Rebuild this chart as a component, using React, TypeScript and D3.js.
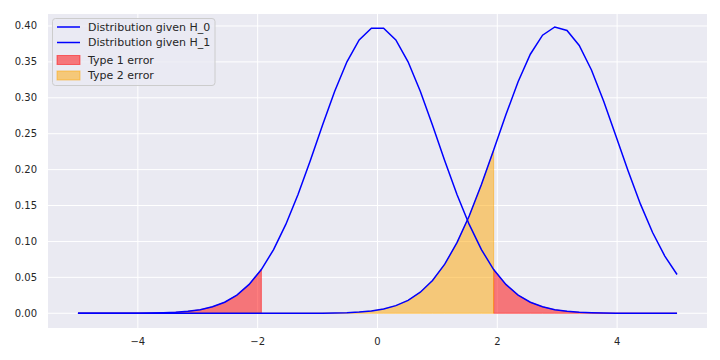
import React, {useMemo} from 'react';
import * as d3 from 'd3';

// sample positions (50 points from -5 to 5)
const xs: number[] = d3.range(50).map((i) => -5 + (i * 10) / 49);

// density, null hypothesis curve
const h0: number[] = [
  0.0000, 0.0000, 0.0000, 0.0000, 0.0001, 0.0001, 0.0003, 0.0007, 0.0014, 0.0027,
  0.0050, 0.0090, 0.0154, 0.0254, 0.0402, 0.0609, 0.0886, 0.1237, 0.1655, 0.2125,
  0.2617, 0.3091, 0.3502, 0.3807, 0.3969, 0.3969, 0.3807, 0.3502, 0.3091, 0.2617,
  0.2125, 0.1655, 0.1237, 0.0886, 0.0609, 0.0402, 0.0254, 0.0154, 0.0090, 0.0050,
  0.0027, 0.0014, 0.0007, 0.0003, 0.0001, 0.0001, 0.0000, 0.0000, 0.0000, 0.0000,
];

// alternative hypothesis curve
const h1: number[] = [
  0.0000, 0.0000, 0.0000, 0.0000, 0.0000, 0.0000, 0.0000, 0.0000, 0.0000, 0.0000,
  0.0000, 0.0000, 0.0000, 0.0000, 0.0000, 0.0000, 0.0000, 0.0000, 0.0000, 0.0001,
  0.0002, 0.0004, 0.0008, 0.0017, 0.0033, 0.0060, 0.0106, 0.0180, 0.0293, 0.0457,
  0.0684, 0.0983, 0.1355, 0.1792, 0.2272, 0.2763, 0.3224, 0.3607, 0.3872, 0.3986,
  0.3937, 0.3729, 0.3388, 0.2953, 0.2469, 0.1980, 0.1523, 0.1124, 0.0796, 0.0540,
];

const xTicks: number[] = [-4, -2, 0, 2, 4];
const yTicks: number[] = [0, 0.05, 0.1, 0.15, 0.2, 0.25, 0.3, 0.35, 0.4];
const critical = 1.93; // fills stop at the last sample inside +/- 1.94
const legendItems = [
  {label: 'Distribution given H_0', kind: 'line', color: '#0000ff'},
  {label: 'Distribution given H_1', kind: 'line', color: '#0000ff'},
  {label: 'Type 1 error', kind: 'patch', color: 'red'},
  {label: 'Type 2 error', kind: 'patch', color: 'orange'},
];

const App: React.FC = () => {
  const width = 720;
  const height = 360;
  const plot = {left: 48, right: 707, top: 14, bottom: 328};
  const font = 'DejaVu Sans, sans-serif';
  const textColor = '#262626';

  const x = useMemo(() => d3.scaleLinear().domain([-5.5, 5.5]).range([plot.left, plot.right]), []);
  const y = useMemo(() => d3.scaleLinear().domain([-0.0205, 0.4167]).range([plot.bottom, plot.top]), []);

  const line = d3.line<number>().x((_, i) => x(xs[i])).y((d) => y(d));

  const idx = d3.range(xs.length);
  const leftTail = idx.filter((i) => xs[i] <= -critical);
  const rightTail = idx.filter((i) => xs[i] >= critical);
  const middle = idx.filter((i) => xs[i] <= critical + 0.02);

  const areaOf = (ids: number[], vals: number[]) =>
    d3.area<number>().x((i) => x(xs[i])).y0(y(0)).y1((i) => y(vals[i]))(ids) || '';

  return (
      <svg width={width} height={height} style={{position: 'absolute', left: 0, top: 0}}>
        <rect x={0} y={0} width={width} height={height} fill="white"/>
        <rect x={plot.left} y={plot.top} width={plot.right - plot.left}
              height={plot.bottom - plot.top} fill="#eaeaf2"/>
        {xTicks.map((t) => (
            <g key={`x${t}`}>
              <line x1={x(t)} x2={x(t)} y1={plot.top} y2={plot.bottom} stroke="white" strokeWidth={1}/>
              <text x={x(t)} y={plot.bottom + 13} dy="0.35em" textAnchor="middle" fontFamily={font}
                    fontSize={10} fill={textColor}>{t < 0 ? `\u2212${-t}` : t}</text>
            </g>
        ))}
        {yTicks.map((t) => (
            <g key={`y${t}`}>
              <line x1={plot.left} x2={plot.right} y1={y(t)} y2={y(t)} stroke="white" strokeWidth={1}/>
              <text x={plot.left - 11} y={y(t)} dy="0.35em" textAnchor="end" fontFamily={font}
                    fontSize={10} fill={textColor}>{t.toFixed(2)}</text>
            </g>
        ))}
        <g>
          <path d={areaOf(leftTail, h0)} fill="red" fillOpacity={0.5} stroke="red" strokeOpacity={0.5}/>
          <path d={areaOf(rightTail, h0)} fill="red" fillOpacity={0.5} stroke="red" strokeOpacity={0.5}/>
          <path d={areaOf(middle, h1)} fill="orange" fillOpacity={0.5} stroke="orange" strokeOpacity={0.5}/>
        </g>
        <path d={line(h0) || ''} fill="none" stroke="#0000ff" strokeWidth={1.5}/>
        <path d={line(h1) || ''} fill="none" stroke="#0000ff" strokeWidth={1.5}/>
        <g transform="translate(52.5, 18.5)">
          <rect width={162.5} height={67} rx={3} fill="#eaeaf2" fillOpacity={0.8} stroke="#cccccc"/>
          {legendItems.map((item, i) => {
            const cy = [8.5, 24, 41.5, 57][i];
            return (
                <g key={item.label}>
                  {item.kind === 'line'
                      ? <line x1={4.5} x2={27.5} y1={cy} y2={cy} stroke={item.color} strokeWidth={1.5}/>
                      : <rect x={4.5} y={cy - 4.5} width={23} height={9} fill={item.color}
                              fillOpacity={0.5} stroke={item.color} strokeOpacity={0.5}/>}
                  <text x={35.5} y={cy} dy="0.35em" fontFamily={font} fontSize={11}
                        fill={textColor}>{item.label}</text>
                </g>
            );
          })}
        </g>
      </svg>
  );
};

export default App;
